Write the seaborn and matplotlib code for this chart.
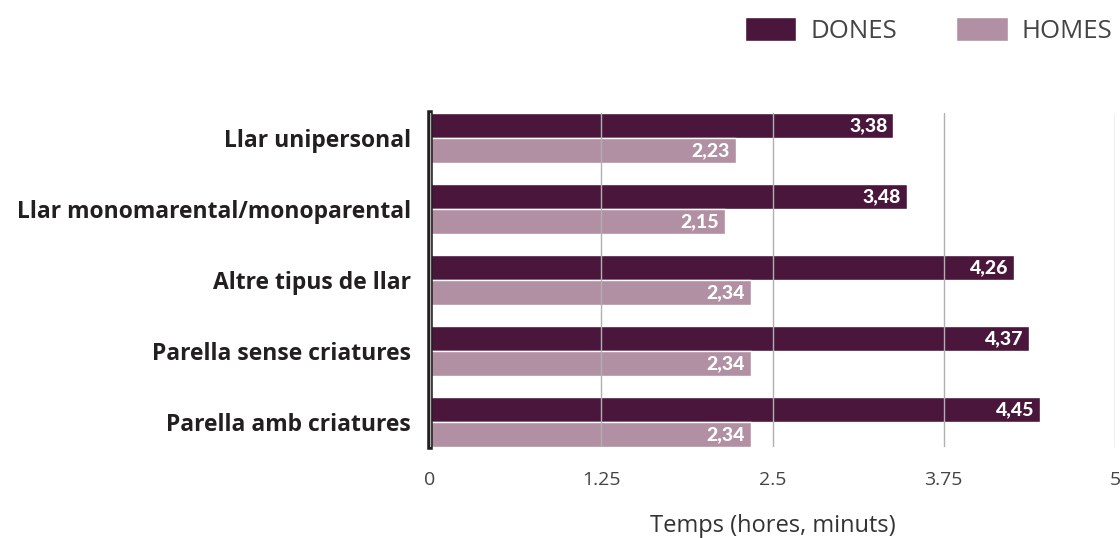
import pandas as pd
import numpy as np
import seaborn as sns
import matplotlib.pyplot as plt
from matplotlib.patches import Patch

# Dades del gràfic
categories = ["Llar unipersonal", "Llar monomarental/monoparental",
              "Altre tipus de llar", "Parella sense criatures",
              "Parella amb criatures"]
dones = [3.38, 3.48, 4.26, 4.37, 4.45]
homes = [2.23, 2.15, 2.34, 2.34, 2.34]
series = ["DONES", "HOMES"]
xticks = [0, 1.25, 2.5, 3.75, 5]
xtick_labels = ["0", "1.25", "2.5", "3.75", "5"]

colors = {"DONES": "#4a163c", "HOMES": "#b290a4"}

dades = pd.DataFrame({
    "Tipus": categories * 2,
    "Valor": dones + homes,
    "Sexe": ["DONES"] * len(categories) + ["HOMES"] * len(categories),
})

sns.set_style("white")
plt.rcParams["font.family"] = ["Open Sans", "DejaVu Sans"]

fig = plt.figure(figsize=(11.2, 5.38), dpi=100)
ax = fig.add_axes([0.384, 0.169, 0.6115, 0.621])

sns.barplot(data=dades, y="Tipus", x="Valor", hue="Sexe", order=categories,
            hue_order=series, palette=colors, width=0.7, gap=0,
            orient="h", ax=ax, legend=False, saturation=1, zorder=1)

# Etiquetes de valor dins les barres
for cont in ax.containers:
    for bar, v in zip(cont, cont.datavalues):
        y = bar.get_y() + bar.get_height() / 2
        ax.annotate(f"{v:.2f}".replace(".", ","), (bar.get_width(), y),
                    xytext=(-4, 0), textcoords="offset points",
                    ha="right", va="center", color="white",
                    fontsize=14, fontweight="black", family="Lato",
                    zorder=5)

ax.set_xlim(0, 5)
ax.set_ylim(len(categories) - 0.65, -0.35)
ax.set_xticks(xticks)
ax.set_xticklabels(xtick_labels, fontsize=14, color="#444444")
ax.tick_params(axis="x", length=0, pad=17)
ax.tick_params(axis="y", length=0, pad=14)
for lab in ax.get_yticklabels():
    lab.set_fontsize(16.5)
    lab.set_fontweight("bold")
    lab.set_color("#231f20")

ax.set_xlabel("Temps (hores, minuts)", fontsize=17, color="#333333",
              labelpad=18)
ax.set_ylabel("")

ax.grid(axis="x", color="#b0b0b0", linewidth=1, zorder=3)
ax.set_axisbelow(False)
for s in ["top", "right", "bottom"]:
    ax.spines[s].set_visible(False)
ax.spines["left"].set_color("#231f20")
ax.spines["left"].set_linewidth(4)

handles = [Patch(facecolor=colors[s], label=s) for s in series]
fig.legend(handles=handles, loc="upper right", bbox_to_anchor=(1.014, 1.012),
           ncol=2, frameon=False, fontsize=18.5, handlelength=2.0,
           handleheight=1.1, columnspacing=2.3, handletextpad=0.55,
           labelcolor="#444444")

fig.savefig("out.png", dpi=100)
